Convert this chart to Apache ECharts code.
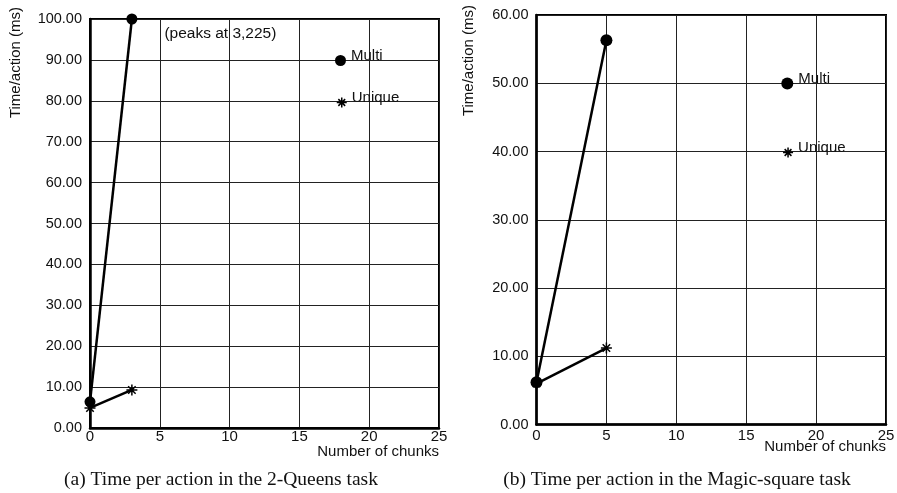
<!DOCTYPE html>
<html>
<head>
<meta charset="utf-8">
<script src="https://cdn.jsdelivr.net/npm/echarts@6/dist/echarts.min.js"></script>
<style>
  html, body { margin: 0; padding: 0; background: #fff; }
  #chart { width: 897px; height: 493px; }
</style>
</head>
<body>
<div id="chart"></div>
<script>
// Number of chunks (x) vs. time per action in ms (y)
const xTicksMax = 25;
const xTickStep = 5;

// (a) 2-Queens task
const queensYMax = 100;
const queensYStep = 10;
const queensMulti = [[0, 6.4], [3, 225]];
const queensUnique = [[0, 4.9], [3, 9.3]];

// (b) Magic-square task
const magicYMax = 60;
const magicYStep = 10;
const magicMulti = [[0, 6.2], [5, 56.3]];
const magicUnique = [[0, 6.0], [5, 11.2]];

const captions = [
  '(a) Time per action in the 2-Queens task',
  '(b) Time per action in the Magic-square task'
];
const yAxisTitle = 'Time/action (ms)';
const xAxisTitle = 'Number of chunks';
const seriesNames = ['Multi', 'Unique'];

const SANS = '"Liberation Sans", Arial, Helvetica, sans-serif';
const SERIF = '"Liberation Serif", "Times New Roman", serif';
const INK = '#111';
const STAR = 'path://M5,0L5,10M0,5L10,5M1.6,1.6L8.4,8.4M8.4,1.6L1.6,8.4';

const grids = [
  { left: 90, top: 19, width: 349, height: 409 },
  { left: 536.5, top: 15, width: 349.5, height: 409.5 }
];
const xLabelMargins = [1, 3.5];

function xAxisFor(i) {
  return {
    type: 'value', gridIndex: i, min: 0, max: xTicksMax, interval: xTickStep,
    axisLine: { show: true, onZero: false, lineStyle: { color: '#000', width: 2.5 } },
    axisTick: { show: false },
    splitLine: { show: true, lineStyle: { color: '#222', width: 1 } },
    axisLabel: { color: INK, fontFamily: SANS, fontSize: 15, margin: xLabelMargins[i] }
  };
}

function yAxisFor(i, max, step) {
  return {
    type: 'value', gridIndex: i, min: 0, max: max, interval: step,
    axisLine: { show: true, onZero: false, lineStyle: { color: '#000', width: 2.5 } },
    axisTick: { show: false },
    splitLine: { show: true, lineStyle: { color: '#222', width: 1 } },
    axisLabel: { color: INK, fontFamily: SANS, fontSize: 14.5, margin: 8, formatter: v => v.toFixed(2) }
  };
}

// Points past the top of the axis are pinned to the frame edge
function capped(points, max) {
  return points.map(p => [p[0], Math.min(p[1], max)]);
}

function multiData(points, max) {
  return capped(points, max).map((p, k) => {
    const raw = points[k];
    if (raw[1] <= max) return p;
    return {
      value: p,
      label: {
        show: true, position: 'right', offset: [22, 15],
        color: INK, fontFamily: SANS, fontSize: 15.5,
        formatter: '(peaks at ' + raw[0] + ',' + raw[1] + ')'
      }
    };
  });
}

const lineStyle = { color: '#000', width: 2.5 };

const series = [
  { name: seriesNames[0], type: 'line', xAxisIndex: 0, yAxisIndex: 0,
    data: multiData(queensMulti, queensYMax), symbol: 'circle', symbolSize: 11,
    itemStyle: { color: '#000' }, lineStyle: lineStyle, z: 3 },
  { name: seriesNames[1], type: 'line', xAxisIndex: 0, yAxisIndex: 0,
    data: capped(queensUnique, queensYMax), symbol: STAR, symbolSize: 11,
    itemStyle: { color: '#000', borderColor: '#000', borderWidth: 1.5 }, lineStyle: lineStyle, z: 4 },
  { name: seriesNames[0], type: 'line', xAxisIndex: 1, yAxisIndex: 1,
    data: multiData(magicMulti, magicYMax), symbol: 'circle', symbolSize: 12,
    itemStyle: { color: '#000' }, lineStyle: lineStyle, z: 3 },
  { name: seriesNames[1], type: 'line', xAxisIndex: 1, yAxisIndex: 1,
    data: capped(magicUnique, magicYMax), symbol: STAR, symbolSize: 11,
    itemStyle: { color: '#000', borderColor: '#000', borderWidth: 1.5 }, lineStyle: lineStyle, z: 4 }
];

// Key entries sit beside their marker with the word raised a little
function legendItem(name, icon, size, left, top) {
  return {
    data: [name], left: left, top: top, padding: 0, selectedMode: false,
    icon: icon, itemWidth: size, itemHeight: size,
    itemStyle: { color: '#000', borderColor: '#000', borderWidth: icon === STAR ? 1.5 : 0 },
    formatter: '{t|{name}}',
    textStyle: {
      color: INK, fontFamily: SANS, fontSize: 15,
      rich: { t: { color: INK, fontFamily: SANS, fontSize: 15, padding: [0, 0, 10, 0] } }
    }
  };
}

const legends = [
  legendItem(seriesNames[0], 'circle', 11, 335, 48),
  legendItem(seriesNames[1], STAR, 10, 336, 90),
  legendItem(seriesNames[0], 'circle', 12, 781.3, 71),
  legendItem(seriesNames[1], STAR, 10, 782.3, 140)
];

function sideTitle(x, yTop) {
  return {
    type: 'text', x: x, y: yTop, rotation: Math.PI / 2,
    style: { text: yAxisTitle, fill: INK, font: '15px ' + SANS, align: 'right', verticalAlign: 'middle' }
  };
}

function bottomTitle(xRight, y) {
  return {
    type: 'text', x: xRight, y: y,
    style: { text: xAxisTitle, fill: INK, font: '15px ' + SANS, align: 'right', verticalAlign: 'middle' }
  };
}

function caption(text, cx) {
  return {
    type: 'text', x: cx, y: 480,
    style: { text: text, fill: INK, font: '19.5px ' + SERIF, align: 'center', verticalAlign: 'middle' }
  };
}

const chart = echarts.init(document.getElementById('chart'), null, { renderer: 'canvas' });
chart.setOption({
  backgroundColor: '#fff',
  animation: false,
  grid: grids.map(g => Object.assign({
    show: true, borderColor: '#000', borderWidth: 2, backgroundColor: 'transparent',
    containLabel: false, outerBoundsMode: 'none'
  }, g)),
  xAxis: [xAxisFor(0), xAxisFor(1)],
  yAxis: [yAxisFor(0, queensYMax, queensYStep), yAxisFor(1, magicYMax, magicYStep)],
  legend: legends,
  series: series,
  graphic: [
    sideTitle(16, 7),
    sideTitle(468.5, 5),
    bottomTitle(439, 452),
    bottomTitle(886, 446.5),
    caption(captions[0], 221),
    caption(captions[1], 677)
  ]
});
</script>
</body>
</html>
